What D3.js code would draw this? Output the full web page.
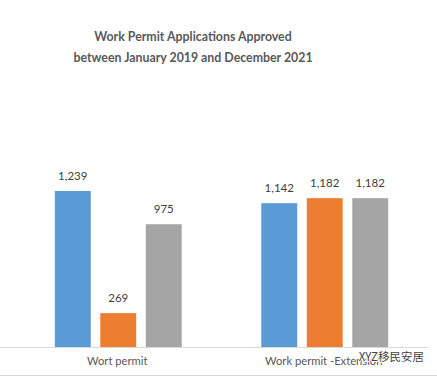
<!DOCTYPE html>
<html lang="en">
<head>
<meta charset="UTF-8">
<title>Work permit applications</title>
<script src="https://d3js.org/d3.v7.min.js"></script>
<style>
  html, body { margin: 0; padding: 0; background: #fff; }
  svg { display: block; font-family: Lato, "Open Sans", sans-serif; }
</style>
</head>
<body>
<div id="chart"></div>
<script>
var categories = ["Wort permit", "Work permit -Extension"];
var seriesNames = ["a", "b", "c"];
var colors = ["#5B9BD5", "#ED7D31", "#A5A5A5"];
var valuesA = [1239, 1142];
var valuesB = [269, 1182];
var valuesC = [975, 1182];
var allValues = [valuesA, valuesB, valuesC];
var titleLines = ["Work Permit Applications Approved", "between January 2019 and December 2021"];

var width = 437, height = 376, baseline = 347;

var svg = d3.select("#chart").append("svg")
    .attr("width", width)
    .attr("height", height);

var x0 = d3.scaleBand().domain(categories).range([15, 428]);
var x1 = d3.scaleBand().domain(seriesNames).range([0, x0.bandwidth()])
    .paddingInner(0.21).paddingOuter(0.875);
// 1239 sits 156px above the axis
var y = d3.scaleLinear().domain([0, 1239]).range([baseline, 191]);

svg.selectAll(".title")
    .data(titleLines)
    .enter().append("text")
    .attr("class", "title")
    .attr("x", 193)
    .attr("y", function(d, i) { return 41 + i * 21; })
    .attr("text-anchor", "middle")
    .attr("font-size", "12.35px")
    .attr("font-weight", "bold")
    .attr("fill", "#595959")
    .text(function(d) { return d; });

seriesNames.forEach(function(name, s) {
    var g = svg.append("g");
    g.selectAll("rect")
        .data(allValues[s])
        .enter().append("rect")
        .attr("x", function(d, i) { return x0(categories[i]) + x1(name); })
        .attr("y", function(d) { return y(d); })
        .attr("width", x1.bandwidth())
        .attr("height", function(d) { return baseline - y(d); })
        .attr("fill", colors[s]);
    g.selectAll("text")
        .data(allValues[s])
        .enter().append("text")
        .attr("x", function(d, i) { return x0(categories[i]) + x1(name) + x1.bandwidth() / 2; })
        .attr("y", function(d) { return y(d) - 11; })
        .attr("text-anchor", "middle")
        .attr("font-size", "11.5px")
        .attr("fill", "#404040")
        .text(d3.format(","));
});

// axis line runs off the left edge of the crop
svg.append("line").attr("x1", 0).attr("x2", 428).attr("y1", baseline + 0.5).attr("y2", baseline + 0.5)
    .attr("stroke", "#D9D9D9");
svg.append("line").attr("x1", 0).attr("x2", width).attr("y1", 375.5).attr("y2", 375.5)
    .attr("stroke", "#D9D9D9");

svg.selectAll(".cat")
    .data(categories)
    .enter().append("text")
    .attr("class", "cat")
    .attr("x", function(d) { return x0(d) + x0.bandwidth() / 2 - 1; })
    .attr("y", 365)
    .attr("text-anchor", "middle")
    .attr("font-size", "11.2px")
    .attr("fill", "#595959")
    .text(function(d) { return d; });

// watermark over the second label
svg.append("text")
    .attr("x", 424)
    .attr("y", 361)
    .attr("text-anchor", "end")
    .attr("font-family", "'Noto Sans CJK SC', sans-serif")
    .attr("font-size", "11.5px")
    .attr("fill", "#444")
    .attr("stroke", "#fff")
    .attr("stroke-width", 1.5)
    .attr("paint-order", "stroke")
    .text("XYZ移民安居");
</script>
</body>
</html>
